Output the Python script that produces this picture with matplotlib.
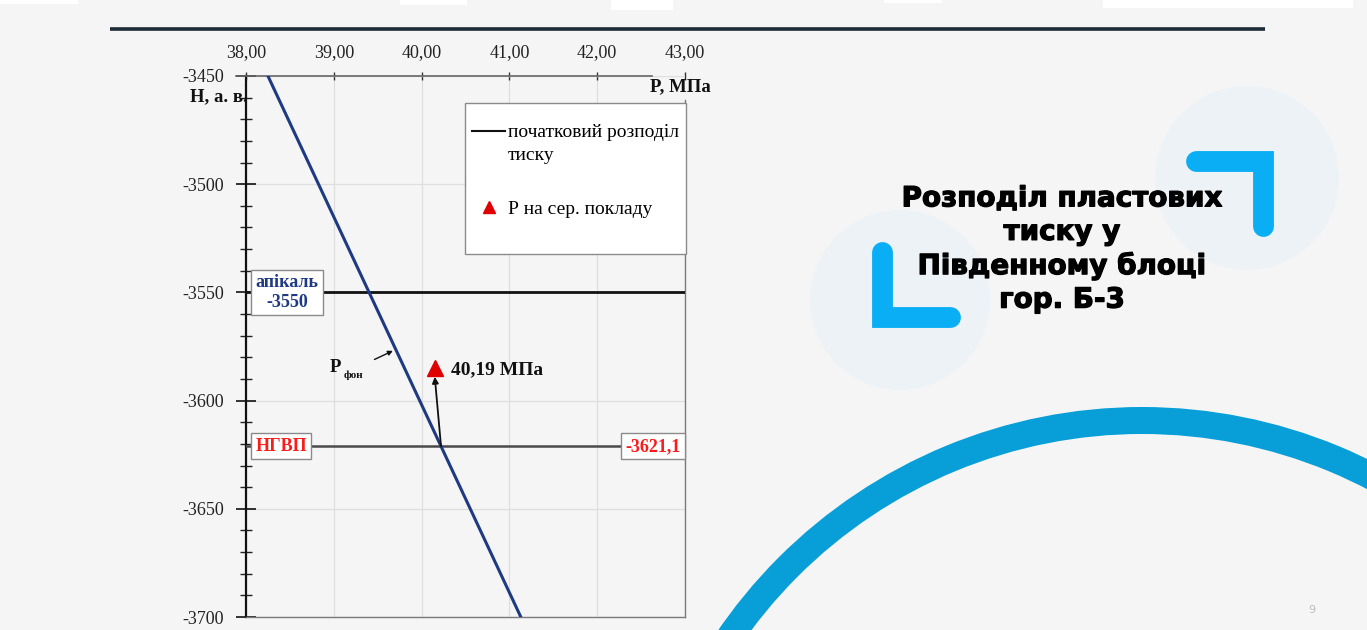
import matplotlib
matplotlib.use("Agg")
import matplotlib.pyplot as plt
import matplotlib.patheffects as pe
import numpy as np
from matplotlib.patches import Circle, Rectangle, Wedge
from matplotlib.lines import Line2D
from matplotlib.ticker import FixedLocator, FuncFormatter, MultipleLocator

# ---------------- data ----------------
p_init = [38.25, 41.13]          # initial pressure distribution, MPa
h_init = [-3450, -3700]          # depth, m a.s.l.
h_apical = -3550                 # apical point
h_gwc = -3621.1                  # НГВП
p_mid = [40.15]                  # P at middle of deposit (marker position)
h_mid = [-3585]
p_mid_label = "40,19 МПа"
x_ticks = [38, 39, 40, 41, 42, 43]
y_ticks = [-3700, -3650, -3600, -3550, -3500, -3450]

W, H = 1367, 630
fig = plt.figure(figsize=(W / 100, H / 100), dpi=100)
fig.patch.set_facecolor("#f5f5f5")

serif = ["Liberation Serif", "DejaVu Serif"]

# ---------------- slide background ----------------
bg = fig.add_axes([0, 0, 1, 1], zorder=0)
bg.set_xlim(0, W)
bg.set_ylim(H, 0)
bg.axis("off")
bg.set_facecolor("#f5f5f5")

for (x0, x1, h) in [(0, 78, 4), (400, 467, 5), (611, 673, 10), (884, 942, 3), (1103, 1353, 8)]:
    bg.add_patch(Rectangle((x0, 0), x1 - x0, h, color="white", lw=0))

bg.plot([110, 1265], [29, 29], color="#1d2a35", lw=2.6, solid_capstyle="butt")

bg.add_patch(Circle((1247, 178), 92, color="#edf2f6", lw=0))
bg.add_patch(Circle((900, 300), 90, color="#edf2f6", lw=0))

bcol = "#0aaef5"
bg.plot([1196, 1263, 1263], [161, 161, 226], color=bcol, lw=15, solid_capstyle="round",
        solid_joinstyle="miter")
bg.plot([882, 882, 950], [252, 317, 317], color=bcol, lw=15, solid_capstyle="round",
        solid_joinstyle="miter")

bg.add_patch(Wedge((1142, 921), 514, 0, 360, width=27, color="#089fd9", lw=0))

bg.text(1062, 249, "Розподіл пластових\nтиску у\nПівденному блоці\nгор. Б-3",
        ha="center", va="center", fontsize=20, fontweight="bold",
        family="DejaVu Sans", color="black", linespacing=1.25,
        path_effects=[pe.withStroke(linewidth=0.9, foreground="black")])
bg.text(1312, 610, "9", ha="center", va="center", fontsize=8, color="#bdbdbd")

# ---------------- chart ----------------
left, right, top, bottom = 246, 685, 76, 617
ax = fig.add_axes([left / W, (H - bottom) / H, (right - left) / W, (bottom - top) / H], zorder=1)
ax.set_facecolor("none")
ax.set_xlim(x_ticks[0], x_ticks[-1])
ax.set_ylim(y_ticks[0], y_ticks[-1])

ax.xaxis.set_major_locator(FixedLocator(x_ticks))
ax.yaxis.set_major_locator(FixedLocator(y_ticks))
ax.yaxis.set_minor_locator(MultipleLocator(10))
ax.xaxis.set_major_formatter(FuncFormatter(lambda v, p: f"{v:.2f}".replace(".", ",")))
ax.yaxis.set_major_formatter(FuncFormatter(lambda v, p: f"{int(round(v))}"))
ax.xaxis.tick_top()
ax.tick_params(axis="x", which="major", direction="inout", length=6, width=1,
               color="#333333", pad=8, labelsize=13, labelcolor="#222222")
ax.tick_params(axis="y", which="major", direction="inout", length=14, width=1.2,
               color="#111111", pad=9, labelsize=13, labelcolor="#222222")
ax.tick_params(axis="y", which="minor", direction="inout", length=8, width=1,
               color="#222222")
for lab in ax.get_xticklabels() + ax.get_yticklabels():
    lab.set_family(serif)

ax.grid(True, which="major", color="#dedede", lw=0.9)
ax.set_axisbelow(True)

ax.spines["left"].set_color("#111111")
ax.spines["left"].set_linewidth(1.6)
ax.spines["top"].set_color("#666666")
ax.spines["top"].set_linewidth(1.2)
ax.spines["top"].set_bounds(37.89, 42.62)
ax.spines["right"].set_color("#7a7a7a")
ax.spines["right"].set_linewidth(1.0)
ax.spines["right"].set_bounds(-3700, -3461)
ax.spines["bottom"].set_color("#7a7a7a")
ax.spines["bottom"].set_linewidth(1.0)

# horizontal reference lines
ax.axhline(h_apical, color="#111111", lw=2.0, zorder=3)
ax.axhline(h_gwc, color="#4a4a4a", lw=1.8, zorder=3)

# initial pressure line
ax.plot(p_init, h_init, color="#1f3a84", lw=2.2, zorder=4)

# marker + label
ax.plot(p_mid, h_mid, linestyle="none", marker="^", color="#e00000", markersize=12, zorder=6)
ax.annotate(p_mid_label, xy=(p_mid[0], h_mid[0]), xytext=(12, -1), textcoords="offset points",
            ha="left", va="center", fontsize=14, fontweight="bold", family=serif, color="#111111")

# arrow from НГВП intersection to marker
p_cross = np.interp(-h_gwc, [-h for h in h_init], p_init)
ax.annotate("", xy=(p_mid[0], h_mid[0] - 4), xytext=(p_cross, h_gwc),
            arrowprops=dict(arrowstyle="-|>", color="#111111", lw=1.3, mutation_scale=9,
                            shrinkA=0, shrinkB=0), zorder=5)

# P фон label with arrow to line
h_lab = -3577
p_lab = np.interp(-h_lab, [-h for h in h_init], p_init)
ax.annotate("", xy=(p_lab - 0.04, h_lab), xytext=(p_lab - 0.25, h_lab - 4),
            arrowprops=dict(arrowstyle="-|>", color="#111111", lw=1.0, mutation_scale=7,
                            shrinkA=0, shrinkB=0))
ax.text(38.95, -3584.5, "P", ha="left", va="center", fontsize=13.5, fontweight="bold",
        family=serif, color="#111111")
ax.text(39.11, -3588.5, "фон", ha="left", va="center", fontsize=8, fontweight="bold",
        family=serif, color="#111111")

# boxed labels
box = dict(boxstyle="square,pad=0.24", facecolor="white", edgecolor="#8a8a8a", lw=1.0)
ax.text(38.47, h_apical, "апікаль\n-3550", ha="center", va="center", fontsize=13,
        fontweight="bold", family=serif, color="#1f3a84", bbox=box, zorder=7, linespacing=1.2)
ax.text(38.40, h_gwc, "НГВП", ha="center", va="center", fontsize=13,
        fontweight="bold", family=serif, color="#ff1a1a", bbox=box, zorder=7)
ax.text(42.64, h_gwc, "-3621,1", ha="center", va="center", fontsize=13,
        fontweight="bold", family=serif, color="#ff1a1a", bbox=box, zorder=7)

# axis titles
ax.text(0.004, 0.961, "Н, а. в.", transform=ax.transAxes, ha="right", va="center",
        fontsize=13.5, fontweight="bold", family=serif, color="#111111")
ax.text(0.921, 0.981, "P, МПа", transform=ax.transAxes, ha="left", va="center",
        fontsize=13.5, fontweight="bold", family=serif, color="#111111", clip_on=False)

# legend (frame drawn separately to match the reference's spacing)
ax.add_patch(Rectangle((0.499, 0.671), 0.503, 0.279, transform=ax.transAxes,
                       facecolor="white", edgecolor="#8a8a8a", lw=1.0, zorder=7,
                       clip_on=False))
handles = [Line2D([], [], color="#111111", lw=1.5),
           Line2D([], [], color="#e00000", marker="^", linestyle="none", markersize=8)]
labels = ["початковий розподіл\nтиску", "Р на сер. покладу"]
leg = ax.legend(handles, labels, loc="upper left", bbox_to_anchor=(0.515, 0.911),
                frameon=False, prop={"family": serif, "size": 14},
                handlelength=1.7, handletextpad=0.15, labelspacing=1.85,
                borderpad=0, borderaxespad=0)
leg.get_texts()[0].set_linespacing(1.45)
try:
    first_entry = leg._legend_handle_box.get_children()[0].get_children()[0]
    first_entry.align = "top"
except Exception:
    pass
leg.set_zorder(8)

fig.savefig("out.png", dpi=100, facecolor=fig.get_facecolor())
